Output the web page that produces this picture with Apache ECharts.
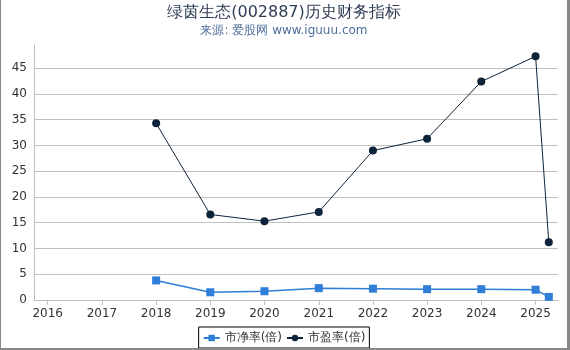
<!DOCTYPE html>
<html><head><meta charset="utf-8">
<script src="https://cdn.jsdelivr.net/npm/echarts@6/dist/echarts.min.js"></script>
<style>
html,body{margin:0;padding:0;background:#fff;}
#frame{position:absolute;left:0;top:0;width:566px;height:348px;border-left:1px solid #888;border-right:3px solid #888;border-bottom:2px solid #888;}
#c{width:566px;height:348px;}
</style></head>
<body><div id="frame"><div id="c"></div></div>
<script>
const dates = ['2018-01-01','2019-01-01','2020-01-01','2021-01-01','2022-01-01','2023-01-01','2024-01-01','2025-01-01','2025-03-31'];
const pbValues = [3.8, 1.5, 1.7, 2.3, 2.2, 2.1, 2.1, 2.0, 0.6];
const peValues = [34.3, 16.6, 15.3, 17.1, 29.0, 31.3, 42.4, 47.3, 11.2];
const yTicks = [0,5,10,15,20,25,30,35,40,45];
const seriesNames = ['市净率(倍)','市盈率(倍)'];

const chart = echarts.init(document.getElementById('c'));
const pair = (vals) => dates.map((d,i)=>[d, vals[i]]);
chart.setOption({
  animation:false,
  title:{
    text:'绿茵生态(002887)历史财务指标',
    subtext:'来源: 爱股网 www.iguuu.com',
    left:'center', top:0, itemGap:4,
    textStyle:{fontSize:16,fontWeight:'normal',color:'#2f3e55',fontFamily:'DejaVu Sans'},
    subtextStyle:{fontSize:12,color:'#4d6e9a',fontFamily:'DejaVu Sans'}
  },
  legend:{
    bottom:0, left:'center',
    data:seriesNames,
    borderColor:'#000', borderWidth:1, padding:[5,4,4,4],
    itemWidth:16, itemHeight:8, itemGap:4,
    textStyle:{fontSize:12,color:'#333',fontFamily:'DejaVu Sans'}
  },
  grid:{left:33,right:9,top:45,bottom:48,containLabel:false},
  xAxis:{
    type:'time',
    min:'2015-10-01', max:'2025-06-01',
    minInterval:365*24*3600*1000, maxInterval:366*24*3600*1000,
    axisLine:{lineStyle:{color:'#c0c0c0'}},
    axisTick:{show:true,length:5,lineStyle:{color:'#c0c0c0'}},
    axisLabel:{formatter:'{yyyy}',color:'#333',fontSize:12,fontFamily:'DejaVu Sans',margin:8,hideOverlap:false},
    splitLine:{show:false}
  },
  yAxis:{
    type:'value', min:0, max:49.5, interval:5,
    axisLine:{show:true,lineStyle:{color:'#c0c0c0'}},
    axisTick:{show:false},
    axisLabel:{color:'#333',fontSize:12,fontFamily:'DejaVu Sans',margin:7,showMaxLabel:false,
      formatter:(v)=> yTicks.includes(v) ? String(v) : ''},
    splitLine:{show:true,showMaxLine:false,lineStyle:{color:'#c0c0c0'}}
  },
  series:[
    {name:seriesNames[0],type:'line',data:pair(pbValues),symbol:'rect',symbolSize:8,
     itemStyle:{color:'#2f7ed8'},lineStyle:{width:1.5,color:'#2f7ed8'}},
    {name:seriesNames[1],type:'line',data:pair(peValues),symbol:'circle',symbolSize:8,
     itemStyle:{color:'#0d233a'},lineStyle:{width:1,color:'#0d233a'}}
  ]
});
</script></body></html>
